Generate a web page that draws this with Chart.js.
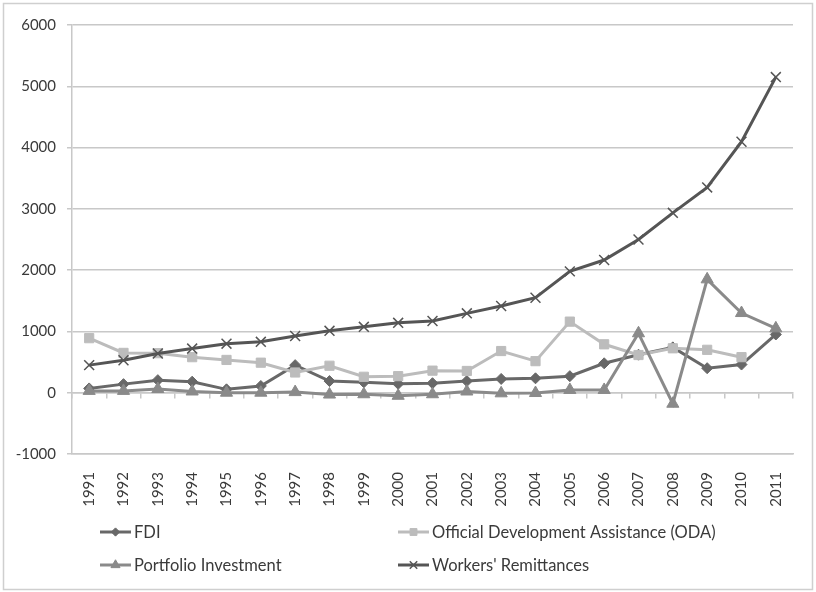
<!DOCTYPE html>
<html>
<head>
<meta charset="utf-8">
<script src="https://cdn.jsdelivr.net/npm/chart.js@4"></script>
<style>
  html, body { margin: 0; padding: 0; background: #fff; }
  #wrap { width: 816px; height: 592px; }
</style>
</head>
<body>
<div id="wrap"><canvas id="chart" width="816" height="592"></canvas></div>
<script>
// Données
const years = ['1991', '1992', '1993', '1994', '1995', '1996', '1997', '1998', '1999', '2000', '2001',
               '2002', '2003', '2004', '2005', '2006', '2007', '2008', '2009', '2010', '2011'];
const fdi = [70, 140, 205, 180, 55, 110, 450, 190, 170, 145, 155, 190, 225, 235, 270, 480, 620, 740, 400, 460, 950];
const oda = [890, 650, 645, 580, 535, 490, 330, 440, 260, 270, 360, 355, 680, 515, 1160, 790, 615, 725, 700, 580, null];
const portfolio = [30, 30, 60, 20, 0, 0, 10, -30, -25, -50, -25, 20, -10, -5, 45, 45, 970, -180, 1850, 1300, 1050];
const remittances = [450, 530, 640, 720, 800, 830, 925, 1010, 1075, 1140, 1170, 1295, 1415, 1550, 1980, 2165, 2500, 2935, 3350, 4095, 5150];
const seriesNames = ['FDI', 'Official Development Assistance (ODA)', 'Portfolio Investment', "Workers' Remittances"];
const yMin = -1000, yMax = 6000, yStep = 1000;

const FONT = 'Lato, "Open Sans", sans-serif';
const TEXT = '#3a3a3a';
const GRID = '#c8c8c8';

function series(label, data, color, style, radius, order, extra) {
    return Object.assign({
        label: label,
        data: data,
        borderColor: color,
        backgroundColor: color,
        borderWidth: 3,
        pointStyle: style,
        pointRadius: radius,
        pointHoverRadius: radius,
        pointBorderColor: color,
        pointBackgroundColor: color,
        pointBorderWidth: 1,
        tension: 0,
        order: order,
        spanGaps: false
    }, extra || {});
}

const datasets = [
    series(seriesNames[0], fdi, '#686868', 'rectRot', 5.5, 4),
    series(seriesNames[1], oda, '#bcbcbc', 'rect', 6.5, 3),
    series(seriesNames[2], portfolio, '#8a8a8a', 'triangle', 7, 2),
    series(seriesNames[3], remittances, '#555555', 'crossRot', 7, 1, { pointBorderWidth: 1.5 })
];

// Cadre gris autour du graphique
const framePlugin = {
    id: 'frame',
    beforeDraw(chart) {
        const ctx = chart.ctx;
        ctx.save();
        ctx.fillStyle = '#fff';
        ctx.fillRect(0, 0, chart.width, chart.height);
        ctx.strokeStyle = '#cfcfcf';
        ctx.lineWidth = 1.5;
        ctx.strokeRect(3.5, 3.5, chart.width - 7, chart.height - 6);
        ctx.restore();
    }
};

// Légende sur deux colonnes, comme dans Excel
const legendPlugin = {
    id: 'twoColLegend',
    afterDraw(chart) {
        const ctx = chart.ctx;
        const colX = [100, 398];
        const rowY = [532, 565];
        ctx.save();
        chart.data.datasets.forEach((ds, i) => {
            const x = colX[i % 2];
            const y = rowY[Math.floor(i / 2)];
            ctx.strokeStyle = ds.borderColor;
            ctx.lineWidth = 3;
            ctx.beginPath();
            ctx.moveTo(x, y);
            ctx.lineTo(x + 31, y);
            ctx.stroke();
            ctx.fillStyle = ds.pointBackgroundColor;
            ctx.strokeStyle = ds.pointBorderColor;
            ctx.lineWidth = ds.pointBorderWidth;
            Chart.helpers.drawPoint(ctx, {
                pointStyle: ds.pointStyle,
                radius: ds.pointRadius * 0.75,
                rotation: 0,
                borderWidth: ds.pointBorderWidth
            }, x + 15.5, y);
            ctx.fillStyle = TEXT;
            ctx.font = '16.5px ' + FONT;
            ctx.textBaseline = 'middle';
            ctx.textAlign = 'left';
            ctx.fillText(ds.label, x + 34, y + 1);
        });
        ctx.restore();
    }
};

new Chart(document.getElementById('chart'), {
    type: 'line',
    data: { labels: years, datasets: datasets },
    options: {
        responsive: false,
        animation: false,
        events: [],
        layout: { padding: { left: 0, top: 25, right: 23, bottom: 80 } },
        plugins: {
            legend: { display: false },
            tooltip: { enabled: false }
        },
        scales: {
            x: {
                type: 'category',
                offset: true,
                grid: { display: false },
                border: { display: true, color: GRID, width: 1.5 },
                ticks: {
                    color: TEXT,
                    font: { family: FONT, size: 15 },
                    minRotation: 90,
                    maxRotation: 90,
                    autoSkip: false,
                    padding: 10
                },
                afterFit(scale) { scale.height = 58; }
            },
            x0: {
                type: 'category',
                position: { y: 0 },
                offset: true,
                grid: { display: true, drawOnChartArea: false, drawTicks: true, tickLength: 5, color: GRID, lineWidth: 1.5, offset: true },
                border: { display: true, color: GRID, width: 1.5 },
                ticks: { display: false }
            },
            y: {
                min: yMin,
                max: yMax,
                grid: { color: GRID, lineWidth: 1.5, drawTicks: true, tickLength: 5 },
                border: { display: true, color: GRID, width: 1.5 },
                ticks: {
                    stepSize: yStep,
                    color: TEXT,
                    font: { family: FONT, size: 15 },
                    padding: 11,
                    callback: (value) => String(value)
                },
                afterFit(scale) { scale.width = 72; }
            }
        }
    },
    plugins: [framePlugin, legendPlugin]
});
</script>
</body>
</html>
